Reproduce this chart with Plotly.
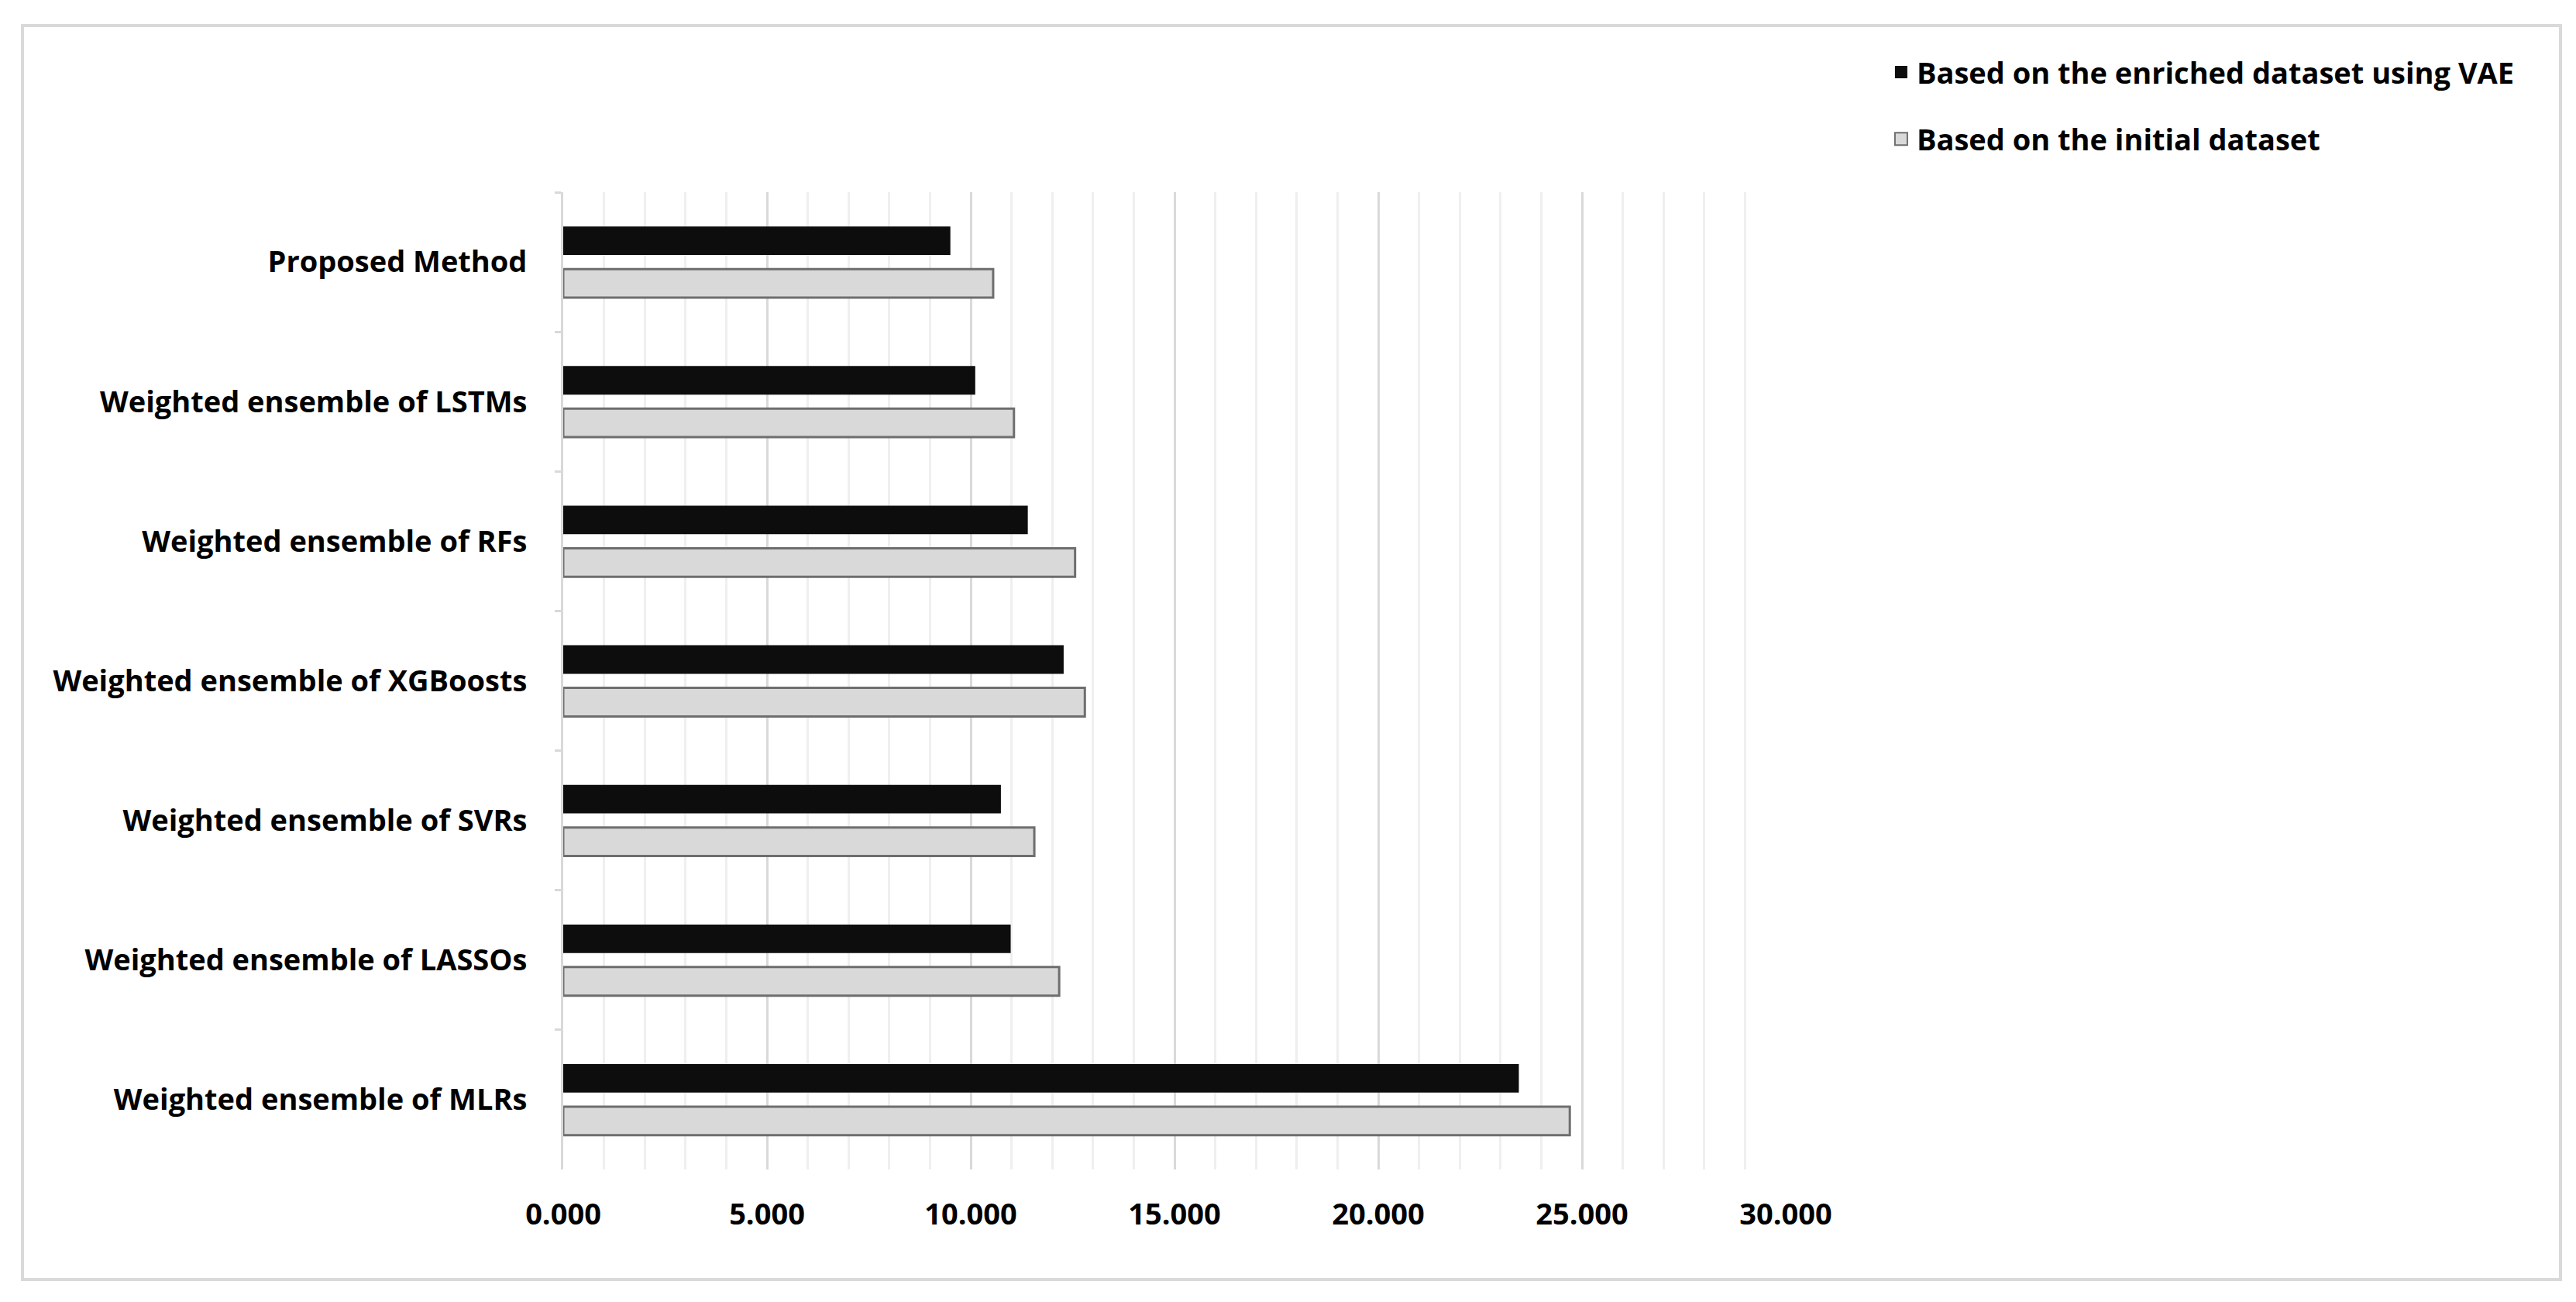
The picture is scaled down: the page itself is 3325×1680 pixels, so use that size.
import plotly.graph_objects as go

# Data
methods = [
    "Proposed Method",
    "Weighted ensemble of LSTMs",
    "Weighted ensemble of RFs",
    "Weighted ensemble of XGBoosts",
    "Weighted ensemble of SVRs",
    "Weighted ensemble of LASSOs",
    "Weighted ensemble of MLRs",
]
vae_values = [9.50, 10.11, 11.40, 12.28, 10.74, 10.98, 23.45]
initial_values = [10.55, 11.06, 12.56, 12.80, 11.56, 12.17, 24.70]
x_ticks = [0, 5, 10, 15, 20, 25, 30]

vae_name = "Based on the enriched dataset using VAE"
initial_name = "Based on the initial dataset"

font_family = "Open Sans, Arial, sans-serif"
fsize = 38

fig = go.Figure()

fig.add_trace(go.Bar(
    y=methods,
    x=vae_values,
    orientation="h",
    name=vae_name,
    marker=dict(color="#0d0d0d", line=dict(width=0)),
    showlegend=False,
))
fig.add_trace(go.Bar(
    y=methods,
    x=initial_values,
    orientation="h",
    name=initial_name,
    marker=dict(color="#d9d9d9", line=dict(color="#6e6e6e", width=3)),
    showlegend=False,
))

# legend entries with bigger square keys
fig.add_trace(go.Scatter(
    x=[None], y=[None], mode="markers", name=vae_name,
    marker=dict(symbol="square", size=16, color="#0d0d0d"),
    legendgroup="vae",
))
fig.add_trace(go.Scatter(
    x=[None], y=[None], mode="markers", name=initial_name,
    marker=dict(symbol="square", size=16, color="#d9d9d9",
                line=dict(color="#6e6e6e", width=2)),
    legendgroup="initial",
))

# light grey frame around the whole chart
fig.add_shape(
    type="rect", xref="paper", yref="paper",
    x0=-0.4423, x1=1.6337, y0=-0.1126, y1=1.1705,
    line=dict(color="#d9d9d9", width=4),
    layer="below",
)

fig.update_layout(
    width=3325,
    height=1680,
    barmode="group",
    bargap=0.39,
    bargroupgap=0.33,
    plot_bgcolor="white",
    paper_bgcolor="white",
    margin=dict(l=719, r=1028, t=240, b=179, autoexpand=False),
    font=dict(family=font_family, size=fsize, color="#000000", weight="bold"),
    legend=dict(
        xref="container", yref="container",
        x=0.7296, xanchor="left",
        y=0.968, yanchor="top",
        traceorder="grouped",
        tracegroupgap=34,
        font=dict(size=fsize, weight="bold"),
        bgcolor="rgba(0,0,0,0)",
    ),
    showlegend=True,
)

fig.update_xaxes(
    range=[0, 30],
    tickvals=x_ticks,
    tickformat=".3f",
    automargin=False,
    showgrid=True,
    gridcolor="#d9d9d9",
    gridwidth=3,
    minor=dict(dtick=1, showgrid=True, gridcolor="#efefef", gridwidth=3),
    showline=False,
    zeroline=False,
    ticks="",
    ticklabelstandoff=32,
    tickfont=dict(size=fsize, weight="bold"),
)

fig.update_yaxes(
    autorange="reversed",
    automargin=False,
    showline=True,
    linecolor="#d9d9d9",
    linewidth=3,
    ticks="outside",
    tickson="boundaries",
    ticklen=8,
    tickwidth=3,
    tickcolor="#d9d9d9",
    ticklabelstandoff=36,
    showgrid=False,
    tickfont=dict(size=fsize, weight="bold"),
)

fig.write_html("out.html")
